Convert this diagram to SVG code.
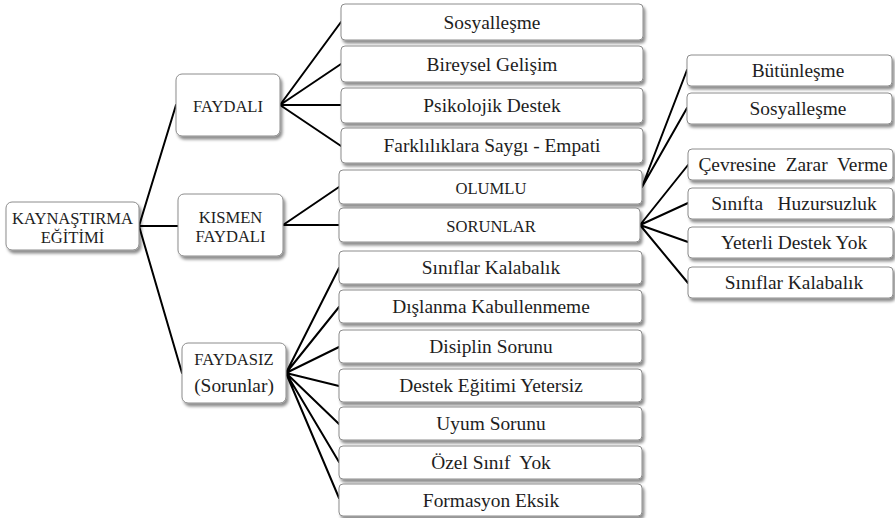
<svg xmlns="http://www.w3.org/2000/svg" width="895" height="518" viewBox="0 0 895 518">
<defs>
<filter id="sh" x="-10%" y="-20%" width="125%" height="160%">
<feDropShadow dx="2" dy="3" stdDeviation="1.6" flood-color="#000" flood-opacity="0.45"/>
</filter>
<style>
.b{fill:#fff;stroke:#8c8c8c;stroke-width:1;filter:url(#sh)}
.t{font-family:"Liberation Serif","Times New Roman",serif;font-size:19.4px;fill:#1e1e1e;text-anchor:middle;white-space:pre}
.c{font-size:16.6px}
.ln{stroke:#000;stroke-width:2;fill:none;stroke-linecap:round}
</style>
</defs>
<rect width="895" height="518" fill="#fff"/>
<g id="connectors" class="ln">
<path d="M139 226L176 105M139 226L178 226M139 226L182 373"/>
<path d="M280 105L341 22M280 105L341 64M280 105L341 105M280 105L341 146"/>
<path d="M283 225L339 187M283 225L339 225"/>
<path d="M286 373L339 268M286 373L339 307M286 373L339 347M286 373L339 386M286 373L339 424M286 373L339 462M286 373L339 498"/>
<path d="M642 187L687 70M642 187L687 108"/>
<path d="M640 225L688 165M640 225L688 203M640 225L688 242M640 225L688 283"/>
</g>
<g id="root"><rect class="b" x="6" y="202" width="133" height="48" rx="6"/><text class="t c" x="72.5" y="224">KAYNAŞTIRMA</text><text class="t c" x="72.5" y="243">EĞİTİMİ</text></g>
<g id="faydali"><rect class="b" x="176" y="74" width="104" height="62" rx="6"/><text class="t c" x="228" y="112">FAYDALI</text></g>
<g id="kismen"><rect class="b" x="178" y="194" width="105" height="62" rx="6"/><text class="t c" x="230.5" y="223">KISMEN</text><text class="t c" x="230.5" y="242">FAYDALI</text></g>
<g id="faydasiz"><rect class="b" x="182" y="343" width="104" height="60" rx="6"/><text class="t c" x="234" y="365">FAYDASIZ</text><text class="t" x="234" y="392">(Sorunlar)</text></g>
<g id="n-sosyallesme1"><rect class="b" x="341" y="4" width="302" height="36" rx="4"/><text class="t" x="492" y="28.5">Sosyalleşme</text></g>
<g id="n-bireysel"><rect class="b" x="341" y="46" width="302" height="36" rx="4"/><text class="t" x="492" y="70.5">Bireysel Gelişim</text></g>
<g id="n-psikolojik"><rect class="b" x="341" y="88" width="302" height="35" rx="4"/><text class="t" x="492" y="112">Psikolojik Destek</text></g>
<g id="n-farklilik"><rect class="b" x="341" y="128" width="302" height="35" rx="4"/><text class="t" x="492" y="152">Farklılıklara Saygı - Empati</text></g>
<g id="n-olumlu"><rect class="b" x="339" y="170" width="303" height="34" rx="4"/><text class="t c" x="491" y="193.5">OLUMLU</text></g>
<g id="n-sorunlar"><rect class="b" x="339" y="208" width="301" height="34" rx="4"/><text class="t c" x="491" y="231.5">SORUNLAR</text></g>
<g id="n-kalabalik1"><rect class="b" x="339" y="251" width="303" height="33" rx="4"/><text class="t" x="491" y="274">Sınıflar Kalabalık</text></g>
<g id="n-dislanma"><rect class="b" x="339" y="290" width="303" height="33" rx="4"/><text class="t" x="491" y="313">Dışlanma Kabullenmeme</text></g>
<g id="n-disiplin"><rect class="b" x="339" y="330" width="303" height="33" rx="4"/><text class="t" x="491" y="353">Disiplin Sorunu</text></g>
<g id="n-destek"><rect class="b" x="339" y="369" width="303" height="33" rx="4"/><text class="t" x="491" y="392">Destek Eğitimi Yetersiz</text></g>
<g id="n-uyum"><rect class="b" x="339" y="407" width="303" height="33" rx="4"/><text class="t" x="491" y="430">Uyum Sorunu</text></g>
<g id="n-ozel"><rect class="b" x="339" y="446" width="303" height="33" rx="4"/><text class="t" x="491" y="469">Özel Sınıf  Yok</text></g>
<g id="n-formasyon"><rect class="b" x="339" y="484" width="303" height="32" rx="4"/><text class="t" x="491" y="506.5">Formasyon Eksik</text></g>
<g id="n-butunlesme"><rect class="b" x="687" y="55" width="205" height="31" rx="4"/><text class="t" x="798" y="77">Bütünleşme</text></g>
<g id="n-sosyallesme2"><rect class="b" x="687" y="93" width="205" height="31" rx="4"/><text class="t" x="798" y="115">Sosyalleşme</text></g>
<g id="n-cevresine"><rect class="b" x="688" y="149" width="205" height="31" rx="4"/><text class="t" x="793" y="171">Çevresine  Zarar  Verme</text></g>
<g id="n-sinifta"><rect class="b" x="688" y="188" width="205" height="31" rx="4"/><text class="t" x="794" y="210">Sınıfta   Huzursuzluk</text></g>
<g id="n-yeterli"><rect class="b" x="688" y="227" width="205" height="31" rx="4"/><text class="t" x="794" y="249">Yeterli Destek Yok</text></g>
<g id="n-kalabalik2"><rect class="b" x="688" y="267" width="205" height="31" rx="4"/><text class="t" x="794" y="289">Sınıflar Kalabalık</text></g>
</svg>
